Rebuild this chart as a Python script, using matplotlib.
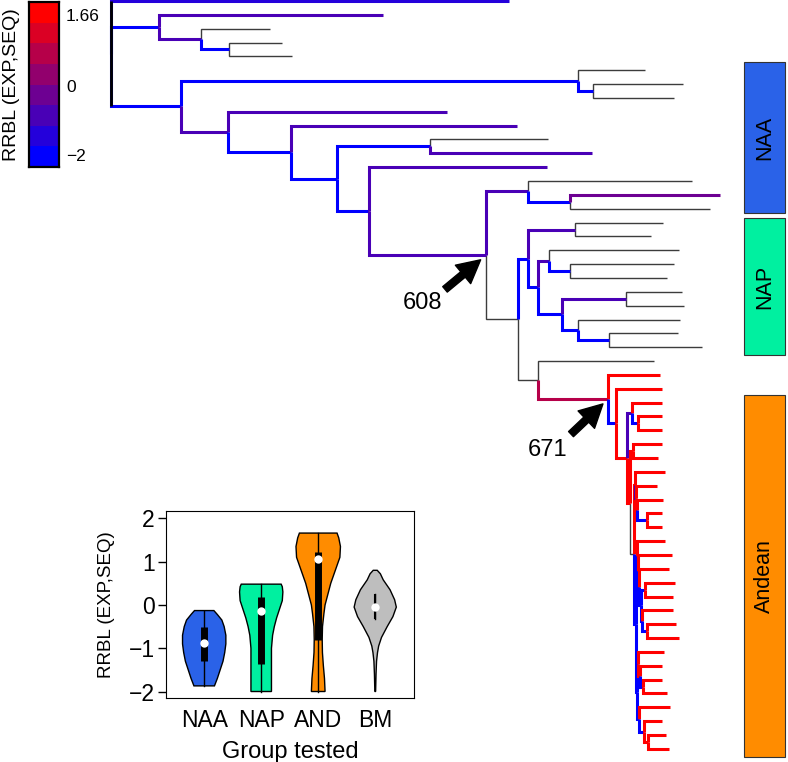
import matplotlib
matplotlib.use('Agg')
import matplotlib.pyplot as plt
from matplotlib.colors import LinearSegmentedColormap, BoundaryNorm
from matplotlib.collections import LineCollection
from matplotlib.patches import Rectangle
import numpy as np

plt.rcParams['font.family'] = ['Liberation Sans', 'DejaVu Sans']

# ---- tree: newick-like, each edge is  length|RRBL  (NA = not tested) ----
andean_clade = (
    "(:0.52|1.5,(:0.46|1.5,("
    "(:0.30|1.5,(:0.24|1.5,:0.24|1.5):0.06|-1.8):0.05|-1.0,"
    "((:0.29|1.5,:0.25|1.5):0.03|1.4,"
    "((:0.30|1.5,(:0.21|1.5,(:0.26|1.5,(:0.15|1.5,:0.15|1.5):0.10|-1.8):0.01|1.4):0.01|-0.8):0.01|1.4,"
    "((:0.28|1.5,(:0.34|1.5,(:0.30|1.5,((:0.30|1.5,:0.28|1.5):0.04|-1.8,"
    "(:0.31|1.5,(:0.29|1.5,:0.32|1.5):0.05|-1.8):0.01|-1.8):0.02|-1.8):0.01|-1.8):0.01|-1.8):0.01|-1.8,"
    "((:0.26|1.5,(:0.22|1.5,(:0.19|1.5,:0.24|1.5):0.03|-1.8):0.02|1.4):0.01|-1.8,"
    "(:0.31|1.5,(:0.18|1.5,(:0.18|1.5,:0.21|1.5):0.04|1.4):0.05|-1.8):0.02|-1.8):0.01|-1.8"
    "):0.02|-1.8):0.04|NA):0.03|1.4):0.11|1.4):0.08|-1.8)671:0.70|0.5"
)
nap_clade = (
    "((:0.88|NA,:0.76|NA):0.47|-0.8,"
    "((:1.30|NA,(:1.04|NA,:0.97|NA):0.21|-1.8):0.11|-0.9,"
    "((:0.56|NA,:0.58|NA):0.64|-0.9,(:1.02|NA,(:0.69|NA,:0.93|NA):0.31|-1.8):0.16|-1.8):0.24|-1.8"
    "):0.10|-1.8):0.10|-1.8"
)
node608 = (
    "((:1.64|NA,(:1.50|-0.6,:1.40|NA):0.42|-1.8):0.42|-1.0,"
    "(" + nap_clade + ",(:1.16|NA," + andean_clade + "):0.20|NA):0.32|NA)608:1.17|-1.0"
)
tree_str = (
    "(:3.98|-1.3,"
    "(:2.24|-0.9,(:0.69|NA,(:0.53|NA,:0.63|NA):0.28|-1.8):0.42|-0.9):0.48|-1.8,"
    "((:0.67|NA,(:0.90|NA,:0.81|NA):0.15|-1.8):3.97|-1.8,"
    "(:2.19|-0.9,(:2.26|-0.9,((:1.18|NA,:1.62|-0.9):0.93|-1.8,"
    "(:1.78|-0.9," + node608 + "):0.32|-1.8):0.46|-1.8):0.63|-1.8):0.47|-0.9):0.70|-1.8);"
)

rrbl_min, rrbl_max = -2.0, 1.66
cbar_labels = ['\u22122', '0', '1.66']
cbar_label_pos = [-1.73, -0.2, 1.37]

group_names = ['NAA', 'NAP', 'Andean']
group_top = [4.4, 15.67, 28.45]
group_bottom = [15.3, 25.56, 54.6]
group_colors = ['#2a62e8', '#00f0a0', '#ff8c00']

# ---- violin summary ----
vio_names = ['NAA', 'NAP', 'AND', 'BM']
vio_colors = ['#2a62e8', '#00f0a0', '#ff8c00', '#bebebe']
vio_levels = [
    [-1.87, -1.7, -1.5, -1.3, -1.1, -0.9, -0.7, -0.5, -0.35, -0.22, -0.13],
    [-2.0, -1.5, -1.0, -0.7, -0.5, -0.3, -0.1, 0.1, 0.3, 0.42, 0.48],
    [-2.0, -1.7, -1.4, -1.1, -0.8, -0.5, -0.2, 0.0, 0.2, 0.5, 0.8, 1.1, 1.35, 1.55, 1.66],
    [-2.0, -1.6, -1.3, -1.1, -0.95, -0.75, -0.5, -0.27, -0.05, 0.12, 0.35, 0.58, 0.72, 0.8],
]
vio_halfwidth = [
    [0.18, 0.23, 0.28, 0.33, 0.36, 0.38, 0.38, 0.35, 0.31, 0.23, 0.17],
    [0.18, 0.18, 0.18, 0.20, 0.23, 0.27, 0.32, 0.37, 0.38, 0.37, 0.35],
    [0.12, 0.11, 0.09, 0.074, 0.07, 0.075, 0.10, 0.12, 0.16, 0.22, 0.30, 0.38, 0.39, 0.36, 0.33],
    [0.007, 0.014, 0.023, 0.04, 0.06, 0.11, 0.21, 0.31, 0.37, 0.34, 0.26, 0.14, 0.09, 0.035],
]
vio_whisk_lo = [-1.87, -2.0, -2.0, -0.32]
vio_whisk_hi = [-0.13, 0.48, 1.66, 0.25]
vio_q1 = [-1.3, -1.37, -0.8, -0.32]
vio_q3 = [-0.52, 0.18, 1.23, 0.25]
vio_median = [-0.88, -0.15, 1.05, -0.04]


def parse(s):
    pos = 0

    def node():
        nonlocal pos
        kids = []
        if s[pos] == '(':
            pos += 1
            while True:
                kids.append(node())
                c = s[pos]
                pos += 1
                if c == ')':
                    break
        name = ''
        while s[pos] not in ':,);':
            name += s[pos]
            pos += 1
        blen, val = 0.0, None
        if s[pos] == ':':
            pos += 1
            tok = ''
            while s[pos] not in ',);':
                tok += s[pos]
                pos += 1
            a, b = tok.split('|')
            blen = float(a)
            val = None if b == 'NA' else float(b)
        return {'kids': kids, 'len': blen, 'val': val, 'name': name}
    return node()


root = parse(tree_str)
counter = [0]


def layout(n, px):
    n['x'] = px + n['len']
    if not n['kids']:
        n['y'] = counter[0]
        counter[0] += 1
    else:
        for k in n['kids']:
            layout(k, n['x'])
        n['y'] = (n['kids'][0]['y'] + n['kids'][-1]['y']) / 2.0


layout(root, 0.0)

cmap = LinearSegmentedColormap.from_list('rrbl', ['#0000ff', '#ff0000'], N=8)
bounds = np.linspace(rrbl_min, rrbl_max, 9)
norm = BoundaryNorm(bounds, 8)

na_segs, col_segs, col_cols = [], [], []
named = {}


def collect(n):
    if n['name']:
        named[n['name']] = (n['x'], n['y'])
    for k in n['kids']:
        path = [(n['x'], n['y']), (n['x'], k['y']), (k['x'], k['y'])]
        if k['val'] is None:
            na_segs.append(path)
        else:
            col_segs.append(path)
            col_cols.append(cmap(norm(k['val'])))
        collect(k)


collect(root)

fig = plt.figure(figsize=(7.88, 7.62), dpi=100)

# tree axes over whole figure
tax = fig.add_axes([0, 0, 1, 1])
tax.set_xlim(-1.11, 6.77)
tax.set_ylim(54.95, -0.072)
tax.axis('off')
tax.add_collection(LineCollection(na_segs, colors='#3c3c3c', linewidths=1.0,
                                  capstyle='butt', joinstyle='miter'))
tax.add_collection(LineCollection(col_segs, colors=col_cols, linewidths=2.2,
                                  capstyle='butt', joinstyle='miter'))
tax.plot([root['x'], root['x']], [root['kids'][0]['y'], root['kids'][-1]['y']],
         color='k', lw=2.0, solid_capstyle='butt')

for lab, (dx, dy, tx, ty) in {'608': (-41, -34, -63, -48), '671': (-37, -35, -60, -51)}.items():
    nx, ny = named[lab]
    tax.annotate('', xy=(nx, ny), xytext=(dx, dy), textcoords='offset pixels',
                 arrowprops=dict(arrowstyle='simple,head_length=1.1,head_width=1.15,tail_width=0.34',
                                 color='k', mutation_scale=15, shrinkA=0, shrinkB=5))
    tax.annotate(lab, xy=(nx, ny), xytext=(tx, ty), textcoords='offset pixels',
                 ha='center', va='center', fontsize=17)

for name, y0, y1, c in zip(group_names, group_top, group_bottom, group_colors):
    tax.add_patch(Rectangle((6.33, y0), 0.41, y1 - y0, facecolor=c,
                            edgecolor='#333333', lw=0.8))
    tax.text(6.535, (y0 + y1) / 2, name, rotation=90, ha='center', va='center',
             fontsize=15.5)

# colour key
cax = fig.add_axes([29 / 788, (762 - 167) / 762, 30 / 788, 165 / 762])
mids = (bounds[:-1] + bounds[1:]) / 2
cax.pcolormesh([0, 1], bounds, mids.reshape(-1, 1), cmap=cmap, norm=norm)
cax.set_xticks([])
cax.yaxis.tick_right()
cax.set_yticks(cbar_label_pos)
cax.set_yticklabels(cbar_labels)
cax.tick_params(axis='y', length=0, pad=5, labelsize=12.5)
for sp in cax.spines.values():
    sp.set_linewidth(1.6)
fig.text(12 / 788, 1 - 85 / 762, 'RRBL (EXP,SEQ)', rotation=90, ha='center',
         va='center', fontsize=14)

# violin inset
vax = fig.add_axes([166 / 788, 64 / 762, 248 / 788, 187 / 762])
for i in range(len(vio_names)):
    pos = i + 1
    lv = np.array(vio_levels[i])
    hw = np.array(vio_halfwidth[i])
    xs = np.concatenate([pos - hw, (pos + hw)[::-1]])
    ys = np.concatenate([lv, lv[::-1]])
    vax.fill(xs, ys, facecolor=vio_colors[i], edgecolor='k', lw=1.0, zorder=2)
    vax.plot([pos, pos], [vio_whisk_lo[i], vio_whisk_hi[i]], color='k', lw=1.0, zorder=3)
    vax.plot([pos, pos], [vio_q1[i], vio_q3[i]], color='k',
             lw=5 if i < 3 else 1.5, solid_capstyle='butt', zorder=3)
    vax.plot(pos, vio_median[i], 'o', color='white', ms=6, mec='none', zorder=4)
vax.set_xlim(0.33, 4.68)
vax.set_ylim(-2.15, 2.17)
vax.set_yticks([-2, -1, 0, 1, 2])
vax.set_yticklabels(['\u22122', '\u22121', '0', '1', '2'])
vax.set_xticks([1, 2, 3, 4])
vax.set_xticklabels(vio_names)
vax.tick_params(axis='y', length=6, width=1, labelsize=16.5, pad=2)
vax.tick_params(axis='x', length=0, labelsize=16.5, pad=8)
vax.set_ylabel('RRBL (EXP,SEQ)', fontsize=13.5, labelpad=10)
fig.text(290 / 788, 1 - 752 / 762, 'Group tested', ha='center', va='center',
         fontsize=17)

fig.savefig('out.png', dpi=100)
